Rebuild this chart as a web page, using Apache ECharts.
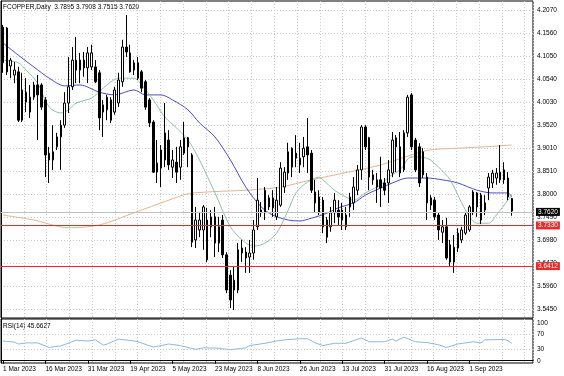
<!DOCTYPE html>
<html>
<head>
<meta charset="utf-8">
<script src="https://cdn.jsdelivr.net/npm/echarts@6/dist/echarts.min.js"></script>
<style>
  html, body { margin: 0; padding: 0; background: #fff; }
  #chart { width: 564px; height: 376px; }
</style>
</head>
<body>
<div id="chart"></div>
<script>
// date labels shown every 11 bars on the time scale
var dateLabels = ['1 Mar 2023', '16 Mar 2023', '31 Mar 2023', '19 Apr 2023', '5 May 2023', '23 May 2023',
                  '8 Jun 2023', '26 Jun 2023', '13 Jul 2023', '31 Jul 2023', '16 Aug 2023', '1 Sep 2023'];
var barsPerLabel = 11;
var emptySlots = 5;

// daily candles: [open, close, low, high]
var candles = [
  [4.090, 4.169, 4.068, 4.174], [4.167, 4.070, 4.063, 4.169], [4.083, 4.096, 4.056, 4.101], [4.063, 4.074, 4.045, 4.092],
  [4.070, 3.963, 3.959, 4.081], [3.963, 4.030, 3.959, 4.068], [4.003, 4.025, 3.981, 4.056], [4.014, 3.981, 3.968, 4.041],
  [4.014, 4.041, 4.008, 4.048], [4.041, 4.019, 3.919, 4.063], [4.041, 3.992, 3.986, 4.045], [4.008, 3.886, 3.837, 4.014],
  [3.890, 3.875, 3.824, 3.904], [3.875, 3.893, 3.853, 3.952], [3.904, 3.926, 3.897, 3.935], [3.926, 3.952, 3.853, 3.963],
  [3.952, 4.001, 3.946, 4.025], [4.001, 4.037, 3.979, 4.103], [4.037, 4.096, 4.030, 4.125], [4.074, 4.096, 4.045, 4.147],
  [4.096, 4.074, 4.045, 4.112], [4.096, 4.079, 4.059, 4.114], [4.079, 4.112, 4.045, 4.125], [4.081, 4.112, 4.074, 4.130],
  [4.081, 4.048, 4.045, 4.096], [4.068, 3.968, 3.941, 4.074], [3.981, 3.997, 3.926, 4.008], [3.986, 4.014, 3.963, 4.019],
  [4.008, 3.963, 3.957, 4.014], [3.981, 4.030, 3.975, 4.037], [4.001, 4.052, 3.992, 4.068], [4.048, 4.125, 4.037, 4.141],
  [4.125, 4.114, 4.103, 4.196], [4.112, 4.070, 4.068, 4.130], [4.074, 4.090, 4.063, 4.096], [4.090, 4.056, 4.052, 4.103],
  [4.070, 4.034, 4.025, 4.074], [4.048, 3.992, 3.986, 4.052], [4.008, 3.957, 3.948, 4.012], [3.959, 3.848, 3.846, 3.963],
  [3.868, 3.848, 3.824, 3.919], [3.857, 3.897, 3.815, 3.908], [3.875, 3.935, 3.859, 4.001], [3.919, 3.864, 3.853, 3.941],
  [3.859, 3.875, 3.835, 3.897], [3.870, 3.848, 3.824, 3.904], [3.859, 3.904, 3.831, 3.919], [3.890, 3.924, 3.886, 3.959],
  [3.924, 3.904, 3.859, 3.926], [3.886, 3.693, 3.682, 3.890], [3.698, 3.742, 3.680, 3.771], [3.720, 3.742, 3.704, 3.760],
  [3.720, 3.771, 3.676, 3.775], [3.742, 3.654, 3.649, 3.769], [3.727, 3.749, 3.704, 3.764], [3.749, 3.691, 3.660, 3.771],
  [3.691, 3.727, 3.671, 3.749], [3.742, 3.665, 3.658, 3.753], [3.665, 3.587, 3.580, 3.671], [3.620, 3.565, 3.547, 3.631],
  [3.587, 3.609, 3.543, 3.638], [3.587, 3.676, 3.580, 3.691], [3.669, 3.680, 3.649, 3.698], [3.671, 3.658, 3.625, 3.682],
  [3.660, 3.669, 3.625, 3.698], [3.669, 3.720, 3.654, 3.742], [3.727, 3.786, 3.720, 3.835], [3.764, 3.758, 3.749, 3.782],
  [3.758, 3.808, 3.742, 3.815], [3.791, 3.771, 3.764, 3.797], [3.791, 3.769, 3.749, 3.808], [3.749, 3.786, 3.742, 3.815],
  [3.775, 3.857, 3.771, 3.870], [3.815, 3.848, 3.802, 3.859], [3.846, 3.893, 3.831, 3.913], [3.859, 3.901, 3.837, 3.903],
  [3.890, 3.879, 3.859, 3.930], [3.864, 3.879, 3.846, 3.913], [3.882, 3.901, 3.859, 3.926], [3.904, 3.886, 3.846, 3.968],
  [3.890, 3.808, 3.802, 3.897], [3.804, 3.780, 3.758, 3.831], [3.793, 3.758, 3.753, 3.808], [3.786, 3.727, 3.713, 3.793],
  [3.742, 3.704, 3.691, 3.749], [3.727, 3.758, 3.716, 3.771], [3.758, 3.786, 3.735, 3.802], [3.764, 3.749, 3.731, 3.786],
  [3.764, 3.742, 3.720, 3.780], [3.727, 3.753, 3.720, 3.771], [3.771, 3.793, 3.749, 3.802], [3.780, 3.815, 3.764, 3.837],
  [3.808, 3.853, 3.797, 3.864], [3.853, 3.948, 3.831, 3.952], [3.948, 3.904, 3.897, 3.952], [3.924, 3.837, 3.808, 3.926],
  [3.842, 3.831, 3.820, 3.853], [3.815, 3.831, 3.780, 3.846], [3.831, 3.813, 3.771, 3.882], [3.824, 3.808, 3.797, 3.835],
  [3.824, 3.853, 3.780, 3.875], [3.846, 3.919, 3.837, 3.937], [3.924, 3.904, 3.848, 3.930], [3.904, 3.846, 3.837, 3.937],
  [3.853, 3.935, 3.848, 3.941], [3.935, 4.014, 3.926, 4.019], [4.019, 3.904, 3.897, 4.023], [3.919, 3.853, 3.848, 3.924],
  [3.904, 3.824, 3.815, 3.912], [3.893, 3.842, 3.835, 3.901], [3.837, 3.780, 3.742, 3.846], [3.791, 3.775, 3.764, 3.797],
  [3.786, 3.749, 3.742, 3.793], [3.753, 3.720, 3.698, 3.758], [3.715, 3.727, 3.691, 3.742], [3.727, 3.658, 3.654, 3.747],
  [3.687, 3.649, 3.640, 3.698], [3.649, 3.682, 3.625, 3.709], [3.680, 3.713, 3.671, 3.724], [3.698, 3.720, 3.691, 3.727],
  [3.713, 3.753, 3.709, 3.760], [3.720, 3.771, 3.716, 3.775], [3.758, 3.804, 3.753, 3.808], [3.802, 3.771, 3.749, 3.804],
  [3.742, 3.797, 3.733, 3.802], [3.780, 3.764, 3.753, 3.797], [3.813, 3.837, 3.786, 3.846], [3.824, 3.846, 3.813, 3.853],
  [3.835, 3.846, 3.820, 3.857], [3.831, 3.848, 3.824, 3.908], [3.853, 3.831, 3.822, 3.870], [3.835, 3.793, 3.786, 3.848],
  [3.7895, 3.7620, 3.7515, 3.7908]
];

// moving averages: [bar index, value]
var maSlow = [[0, 3.753], [8, 3.742], [17, 3.725], [25, 3.731], [34, 3.758], [43, 3.786], [48, 3.800], [55, 3.805],
  [63, 3.808], [72, 3.815], [80, 3.831], [89, 3.847], [98, 3.864], [110, 3.896], [118, 3.901], [127, 3.905], [132, 3.908]];
var maMid = [[0, 4.134], [4, 4.107], [8, 4.081], [12, 4.056], [16, 4.039], [20, 4.041], [25, 4.025], [29, 4.019],
  [34, 4.030], [37, 4.019], [41, 4.019], [44, 4.008], [48, 3.986], [51, 3.957], [55, 3.926], [59, 3.875], [63, 3.815],
  [67, 3.771], [70, 3.753], [74, 3.742], [77, 3.740], [80, 3.746], [84, 3.757], [87, 3.769], [91, 3.780], [94, 3.797],
  [98, 3.813], [101, 3.824], [105, 3.835], [110, 3.835], [114, 3.831], [118, 3.824], [123, 3.808], [127, 3.802],
  [131, 3.802], [132, 3.793]];
var maFast = [[0, 4.096], [4, 4.090], [6, 4.074], [9, 4.045], [12, 3.992], [15, 3.979], [17, 3.986], [19, 4.001],
  [23, 4.012], [26, 4.034], [30, 4.056], [34, 4.056], [36, 4.041], [39, 4.008], [42, 3.970], [45, 3.946], [48, 3.919],
  [51, 3.875], [55, 3.802], [59, 3.727], [62, 3.698], [65, 3.684], [68, 3.691], [71, 3.713], [74, 3.764], [76, 3.802],
  [79, 3.826], [82, 3.837], [83, 3.831], [86, 3.808], [89, 3.793], [91, 3.786], [94, 3.802], [98, 3.820], [100, 3.837],
  [103, 3.853], [106, 3.882], [110, 3.879], [113, 3.859], [116, 3.831], [120, 3.764], [123, 3.735], [126, 3.735],
  [128, 3.753], [131, 3.786], [132, 3.797]];

// RSI(14): [bar index, value]
var rsi = [[0, 52], [3, 49], [4, 44], [6, 47], [9, 47], [12, 35], [15, 39], [19, 54], [22, 52], [24, 55], [26, 41],
  [27, 44], [30, 57], [34, 52], [35, 50], [39, 36], [43, 44], [46, 40], [50, 30], [52, 34], [56, 33], [59, 29],
  [63, 34], [64, 40], [68, 46], [71, 52], [73, 55], [77, 58], [79, 58], [81, 47], [83, 40], [86, 46], [89, 46],
  [93, 60], [95, 50], [99, 50], [101, 57], [102, 52], [104, 62], [107, 50], [110, 48], [113, 42], [115, 35],
  [118, 44], [122, 50], [124, 47], [125, 55], [130, 56], [131, 53], [132, 45.6627]];

var priceTicks = [4.2070, 4.1560, 4.1050, 4.0540, 4.0030, 3.9520, 3.9010, 3.8510, 3.8000, 3.7490, 3.6980, 3.6470, 3.5960, 3.5450];
var rsiTicks = [0, 30, 70, 100];
var rsiLevels = [30, 70];
var bidPrice = 3.7620;
var redLevels = [3.7330, 3.6412];

var categories = [];
for (var i = 0; i < candles.length + emptySlots; i++) {
    categories.push(i % barsPerLabel === 0 && i / barsPerLabel < dateLabels.length ? dateLabels[i / barsPerLabel] : 'bar' + i);
}
function isLabelBar(idx) {
    return idx % barsPerLabel === 0 && idx / barsPerLabel < dateLabels.length;
}

var FONT = 'Liberation Sans';
var last = candles[candles.length - 1];
var headText = 'FCOPPER,Daily  ' + [last[0], last[3], last[2], last[1]].map(function (v) { return v.toFixed(4); }).join(' ');
var rsiText = 'RSI(14) ' + rsi[rsi.length - 1][1].toFixed(4);

var gridLine = { show: true, lineStyle: { color: '#c8c8c8', type: [1, 2], width: 1 } };
var vGridCount = 532 / 22.77;

function priceLabel(v, boxColor) {
    return {
        show: true, position: 'end', distance: 3,
        formatter: v.toFixed(4), color: '#fff', backgroundColor: boxColor,
        padding: [1, 2, 0, 2], fontSize: 6.5, fontFamily: FONT
    };
}

var chart = echarts.init(document.getElementById('chart'), null, { renderer: 'canvas' });
chart.setOption({
    animation: false,
    backgroundColor: '#fff',
    grid: [
        { left: 1, top: 1, width: 532, height: 317, show: true, borderColor: '#000', borderWidth: 1 },
        { left: 1, top: 319, width: 532, height: 44, show: true, borderColor: '#000', borderWidth: 1 }
    ],
    graphic: [
        { type: 'text', left: 3, top: 4, style: { text: headText, fill: '#000', fontSize: 6.5, fontFamily: FONT } },
        { type: 'text', left: 3, top: 323, style: { text: rsiText, fill: '#000', fontSize: 6.5, fontFamily: FONT } }
    ],
    xAxis: [
        { type: 'category', gridIndex: 0, data: categories, axisLine: { show: false }, axisTick: { show: false },
          axisLabel: { show: false }, splitLine: { show: false } },
        { type: 'category', gridIndex: 1, data: categories, position: 'bottom',
          axisLine: { show: true, lineStyle: { color: '#000' } },
          axisTick: { show: true, alignWithLabel: true, length: 3, interval: isLabelBar, lineStyle: { color: '#000' } },
          axisLabel: { show: true, interval: isLabelBar, align: 'left', margin: 3, fontSize: 6.5, fontFamily: FONT, color: '#000' },
          splitLine: { show: false } },
        { type: 'value', gridIndex: 0, min: 0, max: vGridCount, interval: 1, show: true,
          axisLine: { show: false }, axisTick: { show: false }, axisLabel: { show: false }, splitLine: gridLine },
        { type: 'value', gridIndex: 1, min: 0, max: vGridCount, interval: 1, show: true,
          axisLine: { show: false }, axisTick: { show: false }, axisLabel: { show: false }, splitLine: gridLine }
    ],
    yAxis: [
        { type: 'value', gridIndex: 0, position: 'right', min: 3.5251, max: 4.2269,
          axisLine: { show: true, lineStyle: { color: '#000' } },
          axisTick: { show: false, customValues: priceTicks },
          axisLabel: { show: true, customValues: priceTicks, margin: 4, fontSize: 6.5, fontFamily: FONT, color: '#000',
                       formatter: function (v) { return v.toFixed(4); } },
          splitLine: gridLine },
        { type: 'value', gridIndex: 1, position: 'right', min: -6, max: 110,
          axisLine: { show: true, lineStyle: { color: '#000' } },
          axisTick: { show: false, customValues: rsiLevels },
          axisLabel: { show: true, customValues: rsiTicks, margin: 4, fontSize: 6.5, fontFamily: FONT, color: '#000' },
          splitLine: gridLine }
    ],
    series: [
        { name: 'MA slow', type: 'line', xAxisIndex: 0, yAxisIndex: 0, data: maSlow, showSymbol: false, smooth: 0.3,
          lineStyle: { color: '#e6b48c', width: 1 }, z: 1,
          markLine: {
              symbol: 'none', silent: true, animation: false,
              lineStyle: { color: '#e52b2b', type: 'solid', width: 1 },
              data: redLevels.map(function (v) { return { yAxis: v, label: priceLabel(v, '#e52b2b') }; })
          } },
        { name: 'MA mid', type: 'line', xAxisIndex: 0, yAxisIndex: 0, data: maMid, showSymbol: false, smooth: 0.3,
          lineStyle: { color: '#4b4bc8', width: 1 }, z: 1 },
        { name: 'MA fast', type: 'line', xAxisIndex: 0, yAxisIndex: 0, data: maFast, showSymbol: false, smooth: 0.3,
          lineStyle: { color: '#8cc3a8', width: 1 }, z: 1 },
        { name: 'FCOPPER', type: 'candlestick', xAxisIndex: 0, yAxisIndex: 0, data: candles, barWidth: 2, z: 3,
          itemStyle: { color: '#fff', color0: '#000', borderColor: '#000', borderColor0: '#000', borderWidth: 1 },
          markLine: {
              symbol: 'none', silent: true, animation: false,
              lineStyle: { color: '#c0c0c0', type: 'solid', width: 1 },
              data: [{ yAxis: bidPrice, label: priceLabel(bidPrice, '#000') }]
          } },
        { name: 'RSI', type: 'line', xAxisIndex: 1, yAxisIndex: 1, data: rsi, showSymbol: false,
          lineStyle: { color: '#8db8e0', width: 1 } }
    ]
});
</script>
</body>
</html>
